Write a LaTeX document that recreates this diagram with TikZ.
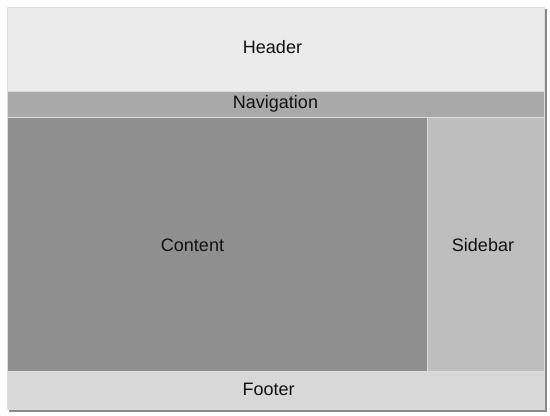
\documentclass[tikz,border=0pt]{standalone}
\usepackage{fontspec}
\setmainfont{Liberation Sans}
\definecolor{hdr}{HTML}{EBEBEB}
\definecolor{nav}{HTML}{A9A9A9}
\definecolor{cnt}{HTML}{8F8F8F}
\definecolor{sbr}{HTML}{BEBEBE}
\definecolor{ftr}{HTML}{D8D8D8}
\definecolor{shd}{HTML}{8A8A8A}
\definecolor{edge}{HTML}{DCDCDC}
\definecolor{txt}{HTML}{111111}
\begin{document}
\begin{tikzpicture}[x=1bp,y=-1bp,
  region/.style={draw=edge, line width=0.6bp},
  lbl/.style={anchor=base, text=txt, inner sep=0pt, font=\fontsize{18bp}{20bp}\selectfont}]
\useasboundingbox (0,0) rectangle (550,415);
\fill[shd] (9,9) rectangle (547,412);
\path[region, fill=hdr] (7,7) rectangle (544,91);
\path[region, fill=nav] (7,91) rectangle (544,117);
\path[region, fill=cnt] (7,117) rectangle (427,371);
\path[region, fill=sbr] (427,117) rectangle (544,371);
\path[region, fill=ftr] (7,371) rectangle (544,409);
\node[lbl] (header) at (272.5,53) {Header};
\node[lbl] (navigation) at (275.5,108) {Navigation};
\node[lbl] (content) at (192.5,251.7) {Content};
\node[lbl] (sidebar) at (483,251.7) {Sidebar};
\node[lbl] (footer) at (268.7,395.7) {Footer};
\end{tikzpicture}
\end{document}
